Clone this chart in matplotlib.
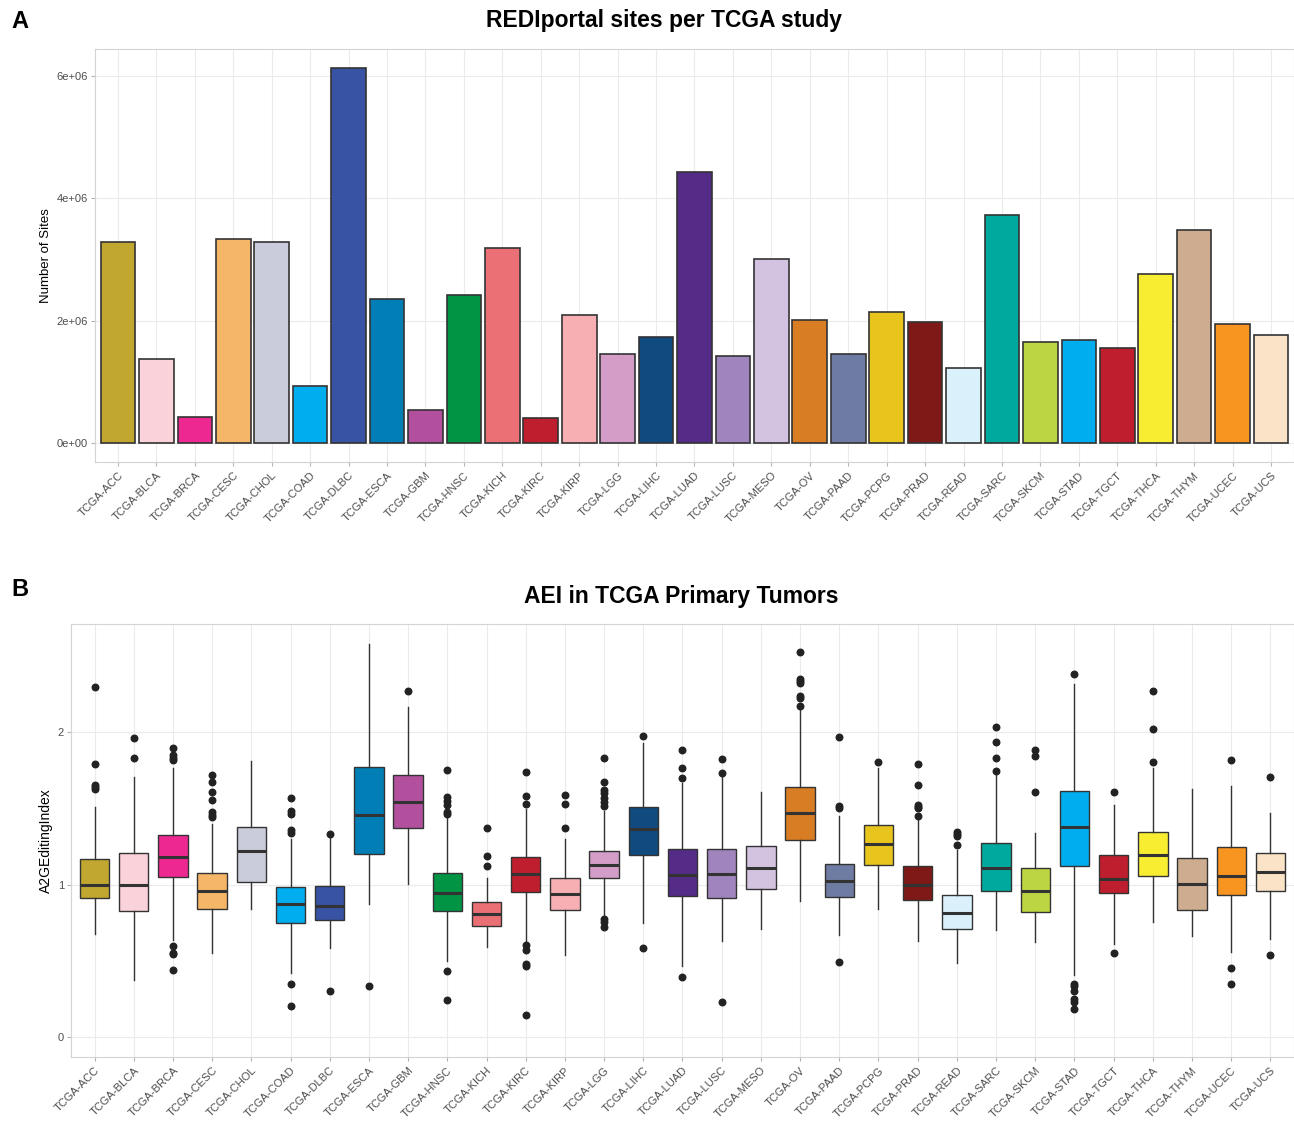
import numpy as np
import matplotlib
matplotlib.use('Agg')
import matplotlib.pyplot as plt
from matplotlib.ticker import FuncFormatter


studies = ['ACC', 'BLCA', 'BRCA', 'CESC', 'CHOL', 'COAD', 'DLBC', 'ESCA', 'GBM',
           'HNSC', 'KICH', 'KIRC', 'KIRP', 'LGG', 'LIHC', 'LUAD', 'LUSC', 'MESO',
           'OV', 'PAAD', 'PCPG', 'PRAD', 'READ', 'SARC', 'SKCM', 'STAD', 'TGCT',
           'THCA', 'THYM', 'UCEC', 'UCS']
labels = ['TCGA-' + s for s in studies]

colors = ['#C1A72F', '#FAD2D9', '#ED2891', '#F6B667', '#CACCDB', '#00AEEF',
          '#3953A4', '#007EB5', '#B2509E', '#009444', '#EA7075', '#BE1E2D',
          '#F8AFB3', '#D49DC7', '#104A7F', '#542C88', '#A084BD', '#D3C3E0',
          '#D97D25', '#6E7BA2', '#E8C51D', '#7E1918', '#DAF1FC', '#00A99D',
          '#BBD642', '#00AEEF', '#BE1E2D', '#F9ED32', '#CEAC8F', '#F89420',
          '#FBE3C7']

# panel A: number of REDIportal sites (millions)
sites_millions = [3.28, 1.38, 0.43, 3.34, 3.28, 0.93, 6.13, 2.36, 0.55, 2.42,
                  3.19, 0.41, 2.09, 1.45, 1.74, 4.43, 1.43, 3.01, 2.01, 1.46,
                  2.14, 1.98, 1.23, 3.73, 1.66, 1.68, 1.55, 2.77, 3.48, 1.94,
                  1.76]

# panel B: AEI box statistics
aei_q1 = [0.911, 0.825, 1.047, 0.841, 1.016, 0.751, 0.769, 1.200, 1.368, 0.825,
          0.732, 0.951, 0.834, 1.042, 1.193, 0.923, 0.911, 0.972, 1.289, 0.916,
          1.126, 0.900, 0.711, 0.960, 0.823, 1.124, 0.942, 1.056, 0.834, 0.932,
          0.956]
aei_med = [0.995, 0.995, 1.179, 0.956, 1.217, 0.874, 0.862, 1.457, 1.543, 0.946,
           0.809, 1.068, 0.939, 1.126, 1.366, 1.065, 1.068, 1.112, 1.471, 1.021,
           1.263, 0.998, 0.816, 1.107, 0.960, 1.378, 1.040, 1.196, 1.002, 1.056,
           1.082]
aei_q3 = [1.170, 1.210, 1.326, 1.077, 1.378, 0.984, 0.993, 1.772, 1.716, 1.075,
          0.883, 1.182, 1.044, 1.219, 1.506, 1.231, 1.235, 1.254, 1.639, 1.138,
          1.389, 1.121, 0.930, 1.270, 1.112, 1.611, 1.191, 1.347, 1.175, 1.245,
          1.207]
aei_whislo = [0.676, 0.373, 0.636, 0.550, 0.839, 0.424, 0.585, 0.874, 1.005, 0.501,
              0.594, 0.618, 0.541, 0.776, 0.746, 0.469, 0.629, 0.711, 0.893, 0.671,
              0.839, 0.634, 0.485, 0.702, 0.622, 0.408, 0.613, 0.758, 0.664, 0.559,
              0.643]
aei_whishi = [1.506, 1.702, 1.765, 1.394, 1.807, 1.296, 1.312, 2.578, 2.163, 1.450,
              1.044, 1.494, 1.301, 1.480, 1.930, 1.667, 1.709, 1.608, 2.163, 1.452,
              1.767, 1.445, 1.224, 1.732, 1.336, 2.315, 1.522, 1.767, 1.629, 1.648,
              1.471]
aei_outliers = [
    [2.296, 1.790, 1.655, 1.639, 1.627],
    [1.960, 1.832],
    [1.895, 1.851, 1.832, 1.814, 0.597, 0.555, 0.548, 0.443],
    [1.716, 1.674, 1.606, 1.557, 1.476, 1.457, 1.441],
    [],
    [1.566, 1.483, 1.464, 1.359, 1.340, 0.352, 0.207],
    [1.331, 0.301],
    [0.338],
    [2.268],
    [1.748, 1.573, 1.545, 1.524, 1.476, 1.462, 0.436, 0.247],
    [1.371, 1.189, 1.119],
    [1.737, 1.578, 1.527, 0.604, 0.573, 0.478, 0.466, 0.147],
    [1.587, 1.529, 1.371],
    [1.830, 1.671, 1.620, 1.599, 1.569, 1.541, 1.517, 0.772, 0.753, 0.723],
    [1.974, 0.583],
    [1.879, 1.762, 1.697, 0.396],
    [1.821, 1.730, 0.233],
    [],
    [2.522, 2.347, 2.333, 2.319, 2.233, 2.221, 2.170],
    [1.967, 1.517, 1.503, 0.490],
    [1.804],
    [1.790, 1.653, 1.522, 1.510, 1.499, 1.448],
    [1.347, 1.331, 1.317, 1.259],
    [2.030, 1.932, 1.830, 1.744],
    [1.883, 1.844, 1.604],
    [2.380, 0.350, 0.333, 0.303, 0.252, 0.233, 0.186],
    [1.608, 0.552],
    [2.268, 2.016, 1.802],
    [],
    [1.814, 0.452, 0.347],
    [1.702, 0.538],
]

GRID = '#EBEBEB'
BORDER = '#D4D4D4'
TICKTXT = '#4D4D4D'
EDGE = '#333333'


def style_panel(ax, x):
    ax.set_facecolor('white')
    ax.set_axisbelow(True)
    ax.grid(True, color=GRID, linewidth=0.8)
    for sp in ax.spines.values():
        sp.set_color(BORDER)
        sp.set_linewidth(0.8)
    ax.set_xlim(0.4, len(x) + 0.6)
    ax.set_xticks(x)
    ax.set_xticklabels(labels, rotation=45, ha='right', rotation_mode='anchor',
                       fontsize=8.5, color=TICKTXT)
    ax.tick_params(axis='both', length=3, color='#B3B3B3', labelsize=8,
                   labelcolor=TICKTXT, pad=2)
    ax.tick_params(axis='x', pad=3)


def plot_sites(ax):
    x = np.arange(1, len(studies) + 1)
    vals = np.array(sites_millions) * 1e6
    ax.bar(x, vals, width=0.9, color=colors, edgecolor=EDGE, linewidth=1.2,
           zorder=2)
    style_panel(ax, x)
    top = vals.max()
    ax.set_ylim(-0.05 * top, top * 1.05)
    ax.set_yticks([0, 2e6, 4e6, 6e6])
    ax.yaxis.set_major_formatter(FuncFormatter(lambda v, p: '%.0e' % v))
    ax.set_ylabel('Number of Sites', fontsize=9.5, color='black')
    ax.yaxis.set_label_coords(-0.036, 0.5)


def plot_aei(ax):
    x = np.arange(1, len(studies) + 1)
    stats = []
    for i in range(len(studies)):
        stats.append({'q1': aei_q1[i], 'med': aei_med[i], 'q3': aei_q3[i],
                      'whislo': aei_whislo[i], 'whishi': aei_whishi[i],
                      'fliers': aei_outliers[i]})
    bp = ax.bxp(stats, positions=x, widths=0.75, patch_artist=True,
                showcaps=False,
                boxprops=dict(edgecolor=EDGE, linewidth=1.0),
                medianprops=dict(color=EDGE, linewidth=2.2),
                whiskerprops=dict(color=EDGE, linewidth=1.0),
                flierprops=dict(marker='o', markerfacecolor='#222222',
                                markeredgecolor='#222222', markersize=4.7))
    for patch, c in zip(bp['boxes'], colors):
        patch.set_facecolor(c)
        patch.set_zorder(2)
    style_panel(ax, x)
    top = max(aei_whishi + [max(o) for o in aei_outliers if o])
    ax.set_ylim(-0.05 * top, top * 1.05)
    ax.set_yticks([0, 1, 2])
    ax.set_ylabel('A2GEditingIndex', fontsize=10, color='black')
    ax.yaxis.set_label_coords(-0.015, 0.5)


if __name__ == '__main__':
    W, H = 1294, 1127
    fig = plt.figure(figsize=(W / 100, H / 100), dpi=100)
    plt.rcParams['font.family'] = ['Liberation Sans', 'DejaVu Sans']

    ax1 = fig.add_axes([95 / W, 1 - 462 / H, (1294 - 95) / W, (462 - 49) / H])
    ax2 = fig.add_axes([71 / W, 1 - 1057 / H, (1294 - 71) / W, (1057 - 624) / H])

    plot_sites(ax1)
    plot_aei(ax2)

    fig.text(664 / W, 1 - 20 / H, 'REDIportal sites per TCGA study',
             ha='center', va='center', fontsize=16.5, fontweight='bold')
    fig.text(681 / W, 1 - 596 / H, 'AEI in TCGA Primary Tumors',
             ha='center', va='center', fontsize=16.5, fontweight='bold')
    fig.text(11 / W, 1 - 21 / H, 'A', ha='left', va='center', fontsize=17,
             fontweight='bold')
    fig.text(11 / W, 1 - 589 / H, 'B', ha='left', va='center', fontsize=17,
             fontweight='bold')

    fig.savefig('out.png', dpi=100, facecolor='white')
